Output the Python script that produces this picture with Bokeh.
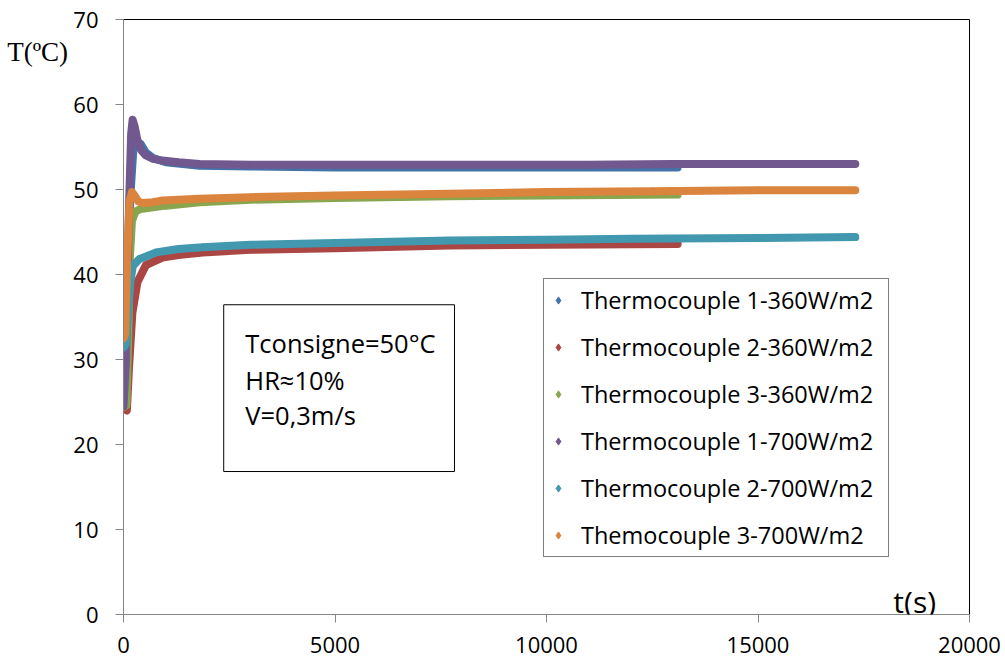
from bokeh.plotting import figure
from bokeh.models import Range1d, FixedTicker, Legend, LegendItem, Label, BoxAnnotation
from bokeh.embed import file_html
from bokeh.resources import INLINE

# ---- data (time in s, temperature in °C) ----
t_tc1_360 = [0, 60, 110, 160, 230, 300, 400, 520, 700, 1000, 1800, 3000, 5000, 7700, 10000, 13100]
T_tc1_360 = [24.5, 25.0, 35.0, 49.0, 54.5, 55.6, 55.4, 54.4, 53.7, 53.2, 52.8, 52.7, 52.6, 52.6, 52.6, 52.6]

t_tc2_360 = [0, 80, 130, 210, 330, 530, 920, 1300, 1870, 3000, 5000, 7700, 10000, 13100]
T_tc2_360 = [24.2, 24.0, 29.0, 35.5, 39.1, 41.1, 42.0, 42.3, 42.6, 42.9, 43.1, 43.4, 43.5, 43.6]

t_tc3_360 = [0, 70, 110, 150, 200, 280, 400, 700, 1000, 1800, 3000, 5000, 7700, 10000, 13100]
T_tc3_360 = [24.4, 24.6, 32.0, 42.0, 46.3, 47.4, 47.7, 47.9, 48.1, 48.5, 48.8, 49.0, 49.2, 49.3, 49.4]

t_tc1_700 = [0, 60, 130, 180, 215, 260, 330, 420, 530, 700, 920, 1300, 1800, 3000, 5000, 7000, 9000, 11000, 13000, 15000, 17300]
T_tc1_700 = [24.5, 30.0, 48.0, 56.5, 58.2, 57.5, 55.8, 54.6, 54.0, 53.6, 53.4, 53.2, 53.0, 52.9, 52.9, 52.9, 52.9, 52.9, 53.0, 53.0, 53.0]

t_tc2_700 = [0, 50, 100, 160, 220, 370, 770, 1300, 1870, 3000, 5000, 7700, 10000, 12000, 15000, 17300]
T_tc2_700 = [31.4, 31.8, 35.0, 39.0, 41.0, 41.8, 42.6, 43.0, 43.2, 43.5, 43.7, 44.0, 44.1, 44.2, 44.3, 44.4]

t_tc3_700 = [0, 40, 90, 140, 200, 260, 350, 450, 700, 920, 1800, 3000, 5000, 7700, 10000, 12500, 15000, 17300]
T_tc3_700 = [32.5, 33.0, 42.0, 48.5, 49.7, 49.3, 48.6, 48.4, 48.5, 48.7, 48.9, 49.1, 49.3, 49.5, 49.7, 49.8, 49.9, 49.9]

series_labels = ["Thermocouple 1-360W/m2", "Thermocouple 2-360W/m2", "Thermocouple 3-360W/m2",
                 "Thermocouple 1-700W/m2", "Thermocouple 2-700W/m2", "Themocouple 3-700W/m2"]
series_colors = ["#4572A7", "#AA4643", "#89A54E", "#71588F", "#4198AF", "#DB843D"]

x_ticks = [0, 5000, 10000, 15000, 20000]
y_ticks = [0, 10, 20, 30, 40, 50, 60, 70]

note_lines = ["Tconsigne=50°C", "HR≈10%", "V=0,3m/s"]

FONT = "Open Sans"

p = figure(width=1005, height=662, output_backend="svg", toolbar_location=None,
           x_range=Range1d(0, 20000), y_range=Range1d(0, 70),
           min_border_left=123, min_border_right=36, min_border_top=19, min_border_bottom=48)
p.background_fill_color = "white"
p.border_fill_color = "white"
p.outline_line_color = "black"
p.outline_line_width = 1
p.grid.visible = False

for ax, ticks in ((p.xaxis, x_ticks), (p.yaxis, y_ticks)):
    ax.ticker = FixedTicker(ticks=ticks)
    ax.axis_line_color = "#868686"
    ax.major_tick_line_color = "#868686"
    ax.major_tick_in = 0
    ax.major_tick_out = 8
    ax.minor_tick_line_color = None
    ax.major_label_text_font = FONT
    ax.major_label_text_font_size = "22px"
    ax.major_label_text_color = "black"
p.yaxis.major_label_standoff = 17
p.xaxis.major_label_standoff = 14
p.xaxis.major_label_text_line_height = 0.8

data = [(t_tc1_360, T_tc1_360), (t_tc2_360, T_tc2_360), (t_tc3_360, T_tc3_360),
        (t_tc1_700, T_tc1_700), (t_tc2_700, T_tc2_700), (t_tc3_700, T_tc3_700)]

items = []
for (tt, TT), lab, col in zip(data, series_labels, series_colors):
    p.line(tt, TT, line_color=col, line_width=8, line_join="round", line_cap="round")
    r = p.scatter(tt, TT, marker="diamond", size=7, fill_color=col, line_color=col)
    items.append(LegendItem(label=lab, renderers=[r]))

legend = Legend(items=items, location=(420, 57), orientation="vertical",
                border_line_color="black", border_line_width=1,
                background_fill_color="white", background_fill_alpha=1,
                label_text_font=FONT, label_text_font_size="23.5px", label_text_color="black",
                label_height=32, glyph_height=32, glyph_width=18, label_standoff=14,
                label_width=302, spacing=15, padding=5, margin=0)
p.add_layout(legend, "center")

# text box
box = BoxAnnotation(left=2369, right=7825, bottom=16.82, top=36.44,
                    fill_alpha=0, line_color="black", line_width=1, line_alpha=1)
p.add_layout(box)
for txt, yb in zip(note_lines, [31.9, 27.6, 23.5]):
    p.add_layout(Label(x=2880, y=yb, text=txt, text_font=FONT, text_font_size="25.5px",
                       text_color="black", text_baseline="alphabetic", text_align="left"))

# axis titles
p.add_layout(Label(x=-2750, y=66.2, text="T(ºC)", text_font="Liberation Serif",
                   text_font_size="27px", text_color="black", text_baseline="alphabetic"),
             "left")
p.add_layout(Label(x=18200, y=1.55, text="t(s)", text_font=FONT,
                   text_font_size="30px", text_color="black", text_baseline="alphabetic"))

open("out.html", "w").write(file_html(p, INLINE))
